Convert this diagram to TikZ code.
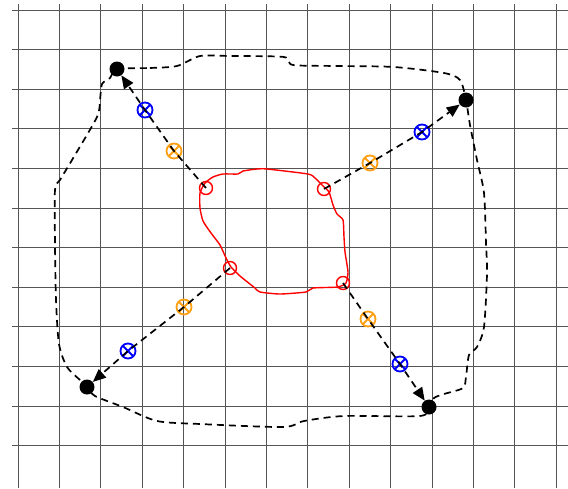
\documentclass[tikz,border=0pt]{standalone}
\usetikzlibrary{arrows.meta}
\definecolor{gridLine}{RGB}{85,85,85}
\definecolor{ringRed}{RGB}{255,0,0}
\definecolor{markOrange}{RGB}{255,160,20}
\definecolor{markBlue}{RGB}{0,0,255}

\begin{document}
\begin{tikzpicture}[x=1pt, y=-1pt,
  gridline/.style={draw=gridLine, line width=0.7pt},
  boundary/.style={line width=1.7pt, dash pattern=on 7pt off 5pt},
  region/.style={draw=ringRed, line width=1.4pt},
  dot/.style={circle, fill=black, inner sep=0pt, minimum size=15pt},
  ring/.style={circle, draw=ringRed, line width=1.4pt, inner sep=0pt, minimum size=13pt},
  xmark/.style={circle, draw=#1, line width=1.8pt, inner sep=0pt, minimum size=15pt,
    path picture={\draw[#1, line width=1.8pt]
      (path picture bounding box.north west) -- (path picture bounding box.south east)
      (path picture bounding box.north east) -- (path picture bounding box.south west);}},
  arr/.style={-{Triangle[length=13pt, width=11pt]}, line width=1.7pt, dash pattern=on 7pt off 5pt}
]
\useasboundingbox (0,0) rectangle (568,488);

% grid
\foreach \i in {0,...,13}
  \draw[gridline] ({18+41.4*\i},4) -- ({18+41.4*\i},488);
\foreach \j in {0,...,11}
  \draw[gridline] (12,{10+39.6*\j}) -- (568,{10+39.6*\j});

% outer dashed boundary
\draw[boundary] plot[smooth cycle, tension=0.45] coordinates {
  (117,69) (150,68) (177,66) (200,56) (230,56) (284,57) (293,65) (340,66)
  (394,67) (444,73) (460,80) (466,100) (470,125) (477,160) (484,193)
  (486,243) (487,274) (484,327) (477,347) (469,355) (466,377) (463,388)
  (444,394) (434,398) (429,407) (420,416) (344,416) (304,421) (283,427)
  (200,424) (157,421) (123,407) (95,396) (87,387) (80,380) (67,367)
  (59,344) (56,300) (55,244) (55,190) (60,180) (72,160) (97,117)
  (100,100) (102,84) (110,78)};

% red inner region
\draw[region] plot[smooth cycle, tension=0.35] coordinates {
  (200,193) (205,183) (213,177) (223,174) (238,174) (243,171) (257,169)
  (267,169) (308,174) (315,178) (322,185) (329,192) (333,205) (337,214)
  (343,220) (344,237) (345,252) (348,272) (346,283) (338,287) (313,288)
  (306,292) (280,294) (260,292) (255,288) (240,276) (231,267) (226,258)
  (220,245) (211,233) (203,221) (200,208)};

% markers
\foreach \n/\x/\y in {1/174/151, 2/370/163, 3/184/307, 4/368/319}
  \node[xmark=markOrange] (o\n) at (\x,\y) {};
\foreach \n/\x/\y in {1/145/110, 2/422/132, 3/128/351, 4/400/364}
  \node[xmark=markBlue] (b\n) at (\x,\y) {};
\foreach \n/\x/\y in {1/206/188, 2/324/189, 3/230/268, 4/343/283}
  \node[ring] (r\n) at (\x,\y) {};
\foreach \n/\x/\y in {1/117/69, 2/466/100, 3/87/387, 4/429/407}
  \node[dot] (d\n) at (\x,\y) {};

% arrows out of the region
\foreach \n in {1,...,4}
  \draw[arr] (r\n.center) -- (o\n.center) -- (b\n.center) -- (d\n);
\end{tikzpicture}
\end{document}
